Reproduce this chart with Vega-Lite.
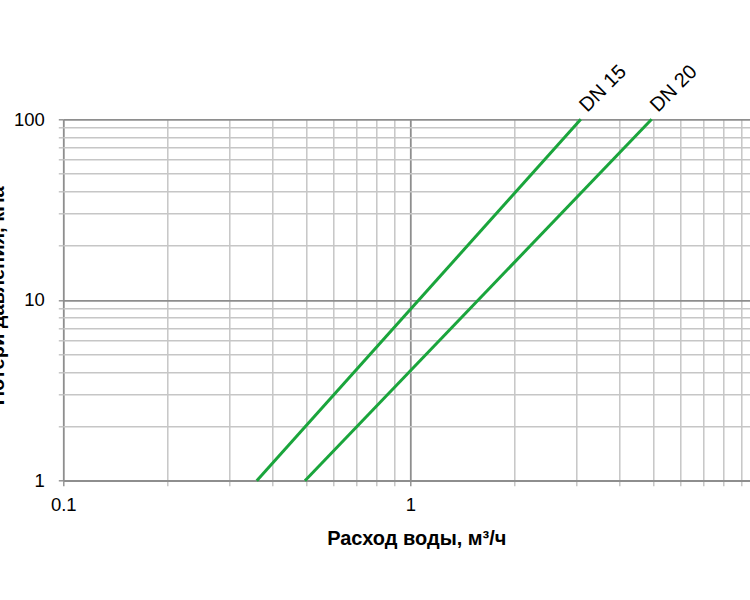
{
  "$schema": "https://vega.github.io/schema/vega-lite/v6.json",
  "autosize": {"type": "none"},
  "padding": {"left": 63.3, "top": 119.3, "right": 0, "bottom": 119.3},
  "width": 686.3,
  "height": 361.4,
  "background": "white",
  "config": {"view": {"stroke": null}, "font": "Liberation Sans"},
  "data": {
    "values": [
      {"series": "DN 15", "q": 0.361, "dp": 1},
      {"series": "DN 15", "q": 3.1, "dp": 100},
      {"series": "DN 20", "q": 0.497, "dp": 1},
      {"series": "DN 20", "q": 4.96, "dp": 100}
    ]
  },
  "encoding": {
    "x": {
      "field": "q",
      "type": "quantitative",
      "scale": {"type": "log", "domain": [0.1, 9.5], "nice": false},
      "axis": {
        "title": "Расход воды, м³/ч",
        "titleFont": "Liberation Sans",
        "titleFontSize": 20,
        "titleFontWeight": "bold",
        "titleColor": "black",
        "titleX": 353,
        "titleY": 63.6,
        "titleAlign": "center",
        "titleBaseline": "alphabetic",
        "values": [0.1, 0.2, 0.3, 0.4, 0.5, 0.6, 0.7, 0.8, 0.9, 1, 2, 3, 4, 5, 6, 7, 8, 9, 10],
        "labelExpr": "datum.value == 0.1 ? '0.1' : datum.value == 1 ? '1' : datum.value == 10 ? '10' : ''",
        "labelFlush": false,
        "labelOverlap": false,
        "labelFontSize": 18.5,
        "labelColor": "black",
        "labelPadding": 10,
        "tickSize": 5,
        "tickWidth": 1.4,
        "tickColor": {"condition": {"test": "datum.value == 0.1 || datum.value == 1 || datum.value == 10", "value": "#8e8e8e"}, "value": "#c2c2c2"},
        "grid": true,
        "gridColor": {"condition": {"test": "datum.value == 0.1 || datum.value == 1 || datum.value == 10", "value": "#8e8e8e"}, "value": "#c6c6c6"},
        "gridWidth": {"condition": {"test": "datum.value == 0.1 || datum.value == 1 || datum.value == 10", "value": 1.8}, "value": 1.5},
        "gridOpacity": 1,
        "domainColor": "#8e8e8e",
        "domainWidth": 1.8
      }
    },
    "y": {
      "field": "dp",
      "type": "quantitative",
      "scale": {"type": "log", "domain": [1, 100], "nice": false},
      "axis": {
        "title": "Потери давления, кПа",
        "titleFont": "Liberation Sans",
        "titleFontSize": 20,
        "titleFontWeight": "bold",
        "titleColor": "black",
        "titleAngle": 270,
        "titleX": -56,
        "titleY": 176,
        "titleAlign": "center",
        "titleBaseline": "bottom",
        "values": [1, 2, 3, 4, 5, 6, 7, 8, 9, 10, 20, 30, 40, 50, 60, 70, 80, 90, 100],
        "labelExpr": "datum.value == 1 ? '1' : datum.value == 10 ? '10' : datum.value == 100 ? '100' : ''",
        "labelFlush": false,
        "labelOverlap": false,
        "labelFontSize": 18.5,
        "labelColor": "black",
        "labelPadding": 14,
        "tickSize": 5,
        "tickWidth": 1.4,
        "tickColor": {"condition": {"test": "datum.value == 1 || datum.value == 10 || datum.value == 100", "value": "#8e8e8e"}, "value": "#c2c2c2"},
        "grid": true,
        "gridColor": {"condition": {"test": "datum.value == 1 || datum.value == 10 || datum.value == 100", "value": "#8e8e8e"}, "value": "#c6c6c6"},
        "gridWidth": {"condition": {"test": "datum.value == 1 || datum.value == 10 || datum.value == 100", "value": 1.8}, "value": 1.5},
        "gridOpacity": 1,
        "domain": false
      }
    }
  },
  "layer": [
    {
      "mark": {"type": "line", "color": "#1aa53c", "strokeWidth": 3},
      "encoding": {"detail": {"field": "series", "type": "nominal"}}
    },
    {
      "transform": [{"filter": "datum.dp == 100"}],
      "mark": {
        "type": "text",
        "align": "left",
        "baseline": "alphabetic",
        "angle": -45,
        "dx": 9,
        "dy": 0,
        "fontSize": 20,
        "font": "Liberation Sans",
        "color": "black"
      },
      "encoding": {"text": {"field": "series", "type": "nominal"}}
    }
  ]
}
